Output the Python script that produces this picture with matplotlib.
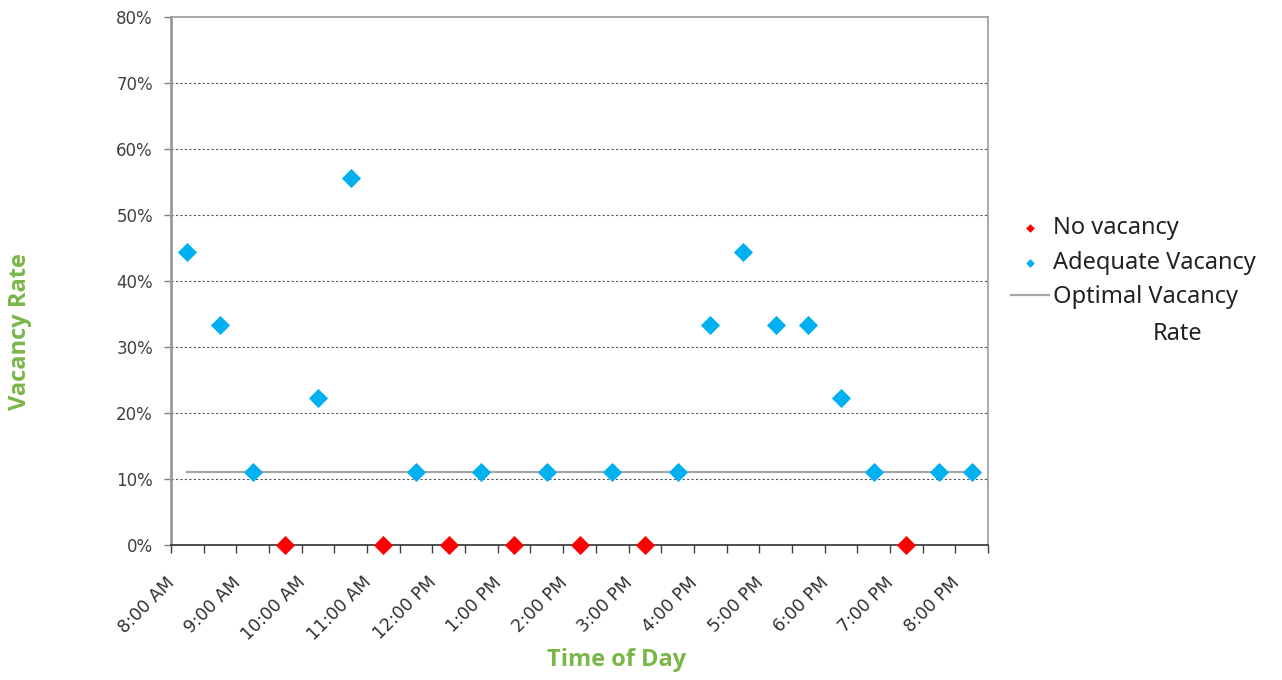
#!/usr/bin/env python3
import numpy as np
import matplotlib
matplotlib.use("Agg")
import matplotlib.pyplot as plt
import matplotlib.transforms as mtransforms

# half-hour slots from 8:00 AM to 8:00 PM
slots = np.arange(25)
hour_labels = ["8:00 AM", "9:00 AM", "10:00 AM", "11:00 AM", "12:00 PM",
               "1:00 PM", "2:00 PM", "3:00 PM", "4:00 PM", "5:00 PM",
               "6:00 PM", "7:00 PM", "8:00 PM"]

# vacancy rate per slot (fraction)
vacancy = [0.444, 0.333, 0.111, 0.0, 0.222, 0.556, 0.0, 0.111, 0.0, 0.111,
           0.0, 0.111, 0.0, 0.111, 0.0, 0.111, 0.333, 0.444, 0.333, 0.333,
           0.222, 0.111, 0.0, 0.111, 0.111]
optimal_rate = 0.111

RED = "#ff0000"
BLUE = "#00b0f0"
GREEN = "#7ab648"


def main():
    fig = plt.figure(figsize=(12.82, 6.8), dpi=100)
    ax = fig.add_axes([171 / 1282, 1 - 545 / 680, (988 - 171) / 1282, (545 - 17) / 680])

    vac = np.array(vacancy)
    none_mask = vac == 0
    ax.scatter(slots[none_mask], vac[none_mask], marker="D", s=95, color=RED,
               zorder=4, label="No vacancy", linewidths=0, clip_on=False)
    ax.scatter(slots[~none_mask], vac[~none_mask], marker="D", s=95, color=BLUE,
               zorder=4, label="Adequate Vacancy", linewidths=0, clip_on=False)
    ax.plot([slots[0], slots[-1]], [optimal_rate, optimal_rate], color="#a6a6a6",
            lw=1.6, zorder=3, label="Optimal Vacancy")

    ax.set_xlim(-0.5, 24.5)
    ax.set_ylim(0, 0.8)

    # y axis
    yt = np.arange(0, 0.81, 0.1)
    ax.set_yticks(yt)
    ax.set_yticklabels(["%d%%" % round(v * 100) for v in yt], fontsize=12,
                       color="#404040", family="DejaVu Sans")
    for v in yt[1:-1]:
        ax.axhline(v, color="#555555", lw=0.8, ls=(0, (2, 2)), zorder=1)
    ax.tick_params(axis="y", length=5, width=1, color="#808080", pad=8)

    # x axis: tick marks between slots, labels each hour
    ax.set_xticks(np.arange(-0.5, 25, 1), minor=True)
    ax.set_xticks(slots[::2])
    ax.set_xticklabels(hour_labels, rotation=45, ha="right", va="center",
                       rotation_mode="anchor", fontsize=12.5, color="#303030",
                       family="DejaVu Sans")
    ax.tick_params(axis="x", which="minor", length=6, width=1, color="#404040")
    ax.tick_params(axis="x", which="major", length=0, pad=25)
    offset = mtransforms.ScaledTranslation(-15 / 100, 0, fig.dpi_scale_trans)
    for lab in ax.get_xticklabels():
        lab.set_transform(lab.get_transform() + offset)

    for side in ["top", "right", "left"]:
        ax.spines[side].set_color("#999999")
        ax.spines[side].set_linewidth(1.2)
    ax.spines["left"].set_linewidth(2)
    ax.spines["bottom"].set_color("#303030")
    ax.spines["bottom"].set_linewidth(1.2)

    fig.text(617 / 1282, 1 - 660 / 680, "Time of Day", ha="center", va="center",
             fontsize=17, fontweight="bold", color=GREEN, family="Open Sans")
    fig.text(20 / 1282, 1 - 332 / 680, "Vacancy Rate", ha="center", va="center",
             rotation=90, fontsize=17, fontweight="bold", color=GREEN,
             family="Open Sans")

    leg = ax.legend(loc="upper left", bbox_to_anchor=(1.002, 0.663), frameon=False,
                    markerscale=0.45, handlelength=1.6,
                    handletextpad=0.2, labelspacing=0.45,
                    prop={"family": "Noto Sans", "size": 17})
    for t in leg.get_texts():
        t.set_color("#222222")
    # wrapped second line of the last legend entry
    fig.text(1153 / 1282, 1 - 334 / 680, "Rate", ha="left", va="center",
             fontsize=17, color="#222222", family="Noto Sans")

    fig.savefig("out.png", dpi=100)


if __name__ == '__main__':
    main()
